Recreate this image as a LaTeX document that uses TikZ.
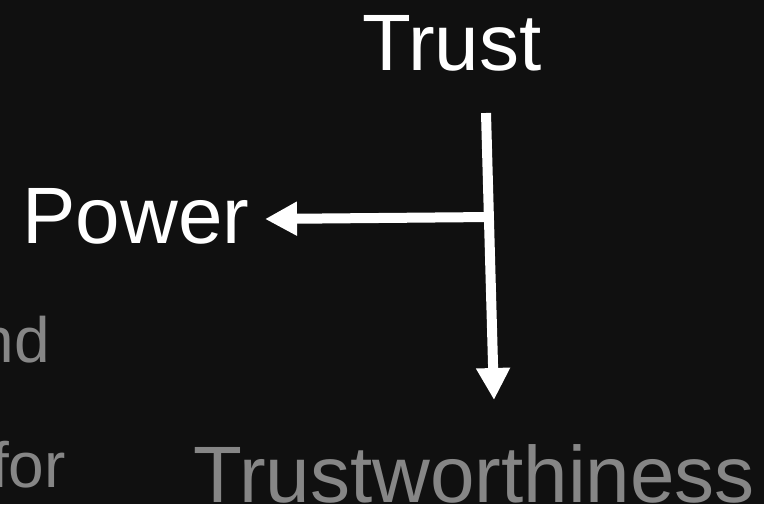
\documentclass[tikz,border=0pt]{standalone}
\usepackage{fontspec}
\setmainfont{Liberation Sans}
\usetikzlibrary{arrows.meta}
\definecolor{bg}{RGB}{16,16,16}
\definecolor{dim}{RGB}{134,134,134}
\tikzset{
  big/.style={inner sep=0pt, font=\fontsize{80}{96}\selectfont},
  small/.style={inner sep=0pt, font=\fontsize{64}{77}\selectfont, text=dim},
  arr/.style={draw=white, line width=10pt, -{Triangle[width=32pt,length=32pt]}}
}
\begin{document}
\begin{tikzpicture}[x=1pt,y=-1pt]
\useasboundingbox (0,0) rectangle (764,504);
\fill[bg] (0,0) rectangle (764,504);
\clip (0,0) rectangle (764,504);
\node[big, text=white, anchor=base] (trust) at (452,70) {Trust};
\node[big, text=white, anchor=base] (power) at (136,243) {Power};
\node[big, text=dim, anchor=base] (tw) at (474,502) {Trustworthiness};
\node[small, anchor=base east] (nd) at (50,362) {nd};
\node[small, anchor=base east] (for) at (66,487) {for};
\coordinate (ts) at (486,113);
\coordinate (te) at (494,400);
\coordinate (j) at (491,217);
\coordinate (pe) at (265,219);
\draw[arr] (ts) -- (te);
\draw[arr] (j) -- (pe);
\end{tikzpicture}
\end{document}
